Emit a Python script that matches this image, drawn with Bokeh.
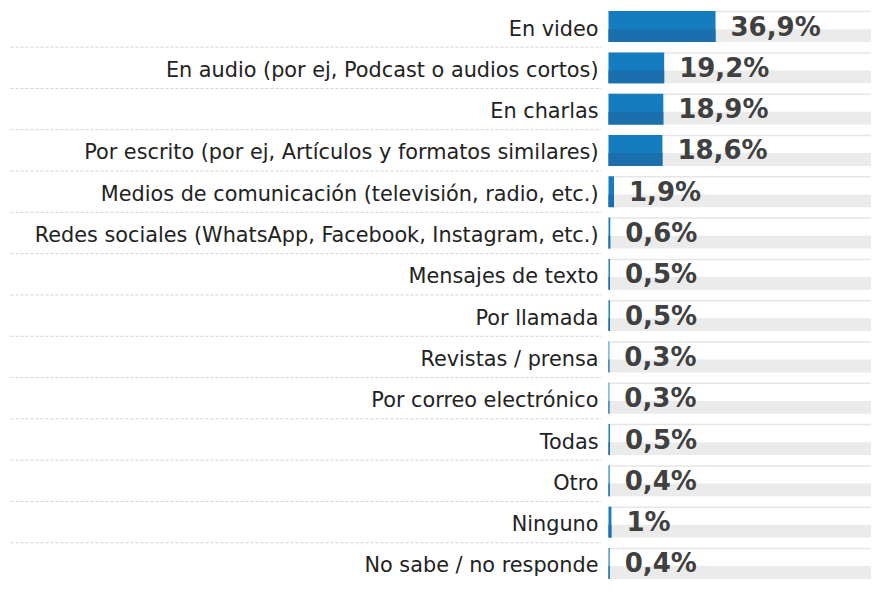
from bokeh.plotting import figure
from bokeh.models import Range1d, ColumnDataSource
from bokeh.core.properties import value
from bokeh.embed import file_html
from bokeh.resources import INLINE

categories = [
    "En video",
    "En audio (por ej, Podcast o audios cortos)",
    "En charlas",
    "Por escrito (por ej, Artículos y formatos similares)",
    "Medios de comunicación (televisión, radio, etc.)",
    "Redes sociales (WhatsApp, Facebook, Instagram, etc.)",
    "Mensajes de texto",
    "Por llamada",
    "Revistas / prensa",
    "Por correo electrónico",
    "Todas",
    "Otro",
    "Ninguno",
    "No sabe / no responde",
]
values = [36.9, 19.2, 18.9, 18.6, 1.9, 0.6, 0.5, 0.5, 0.3, 0.3, 0.5, 0.4, 1.0, 0.4]
value_labels = ["36,9%", "19,2%", "18,9%", "18,6%", "1,9%", "0,6%", "0,5%", "0,5%",
                "0,3%", "0,3%", "0,5%", "0,4%", "1%", "0,4%"]

W, H = 871, 579
px_per_unit = 2.9
bar_start_px = 608
pitch = 41.3
first_center_px = 26

x0 = -bar_start_px / px_per_unit
x1 = (W - bar_start_px) / px_per_unit
y_top = -first_center_px / pitch
y_bot = (H - first_center_px) / pitch

p = figure(width=W, height=H, output_backend="svg", toolbar_location=None,
           x_range=Range1d(x0, x1), y_range=Range1d(y_bot, y_top),
           min_border=0, min_border_left=0, min_border_right=0,
           min_border_top=0, min_border_bottom=0)
p.axis.visible = False
p.grid.visible = False
p.outline_line_color = None
p.background_fill_color = "white"
p.border_fill_color = "white"

n = len(categories)
ys = list(range(n))
bar_h = 0.745
src = ColumnDataSource(dict(y=ys, v=values, cat=categories, lab=value_labels,
                            zero=[0] * n, right=[x1] * n,
                            top=[y - bar_h / 2 + 0.012 for y in ys],
                            band_y=[y + 0.22 for y in ys]))

# track: gray lower band + top line
p.hbar(y="band_y", left="zero", right="right", height=0.31, source=src,
       fill_color="#ebebeb", line_color=None)
p.segment(x0="zero", y0="top", x1="right", y1="top", source=src,
          line_color="#e6e6e6", line_width=1.5)

# bars (two-tone)
p.hbar(y="y", left="zero", right="v", height=bar_h, source=src,
       fill_color="#157cc0", line_color=None)
p.hbar(y="band_y", left="zero", right="v", height=0.31, source=src,
       fill_color="#1b6fac", line_color=None)

# dashed separators
sep_y = [y + 0.5 for y in ys[:-1]]
sep_src = ColumnDataSource(dict(y=sep_y, a=[x0 + 10 / px_per_unit] * len(sep_y),
                                b=[-7 / px_per_unit] * len(sep_y)))
p.segment(x0="a", y0="y", x1="b", y1="y", source=sep_src,
          line_color="#d2d2d2", line_width=1, line_dash="3 2")

# category labels
p.text(x="zero", y="y", text="cat", source=src, x_offset=-10, y_offset=2,
       text_align="right", text_baseline="middle",
       text_font=value("DejaVu Sans"), text_font_size="20.8px", text_color="#222222")

# value labels
p.text(x="v", y="y", text="lab", source=src, x_offset=15, y_offset=0,
       text_align="left", text_baseline="middle",
       text_font=value("DejaVu Sans"), text_font_size="26px", text_font_style="bold",
       text_color="#404040")

open("out.html", "w").write(file_html(p, INLINE))
